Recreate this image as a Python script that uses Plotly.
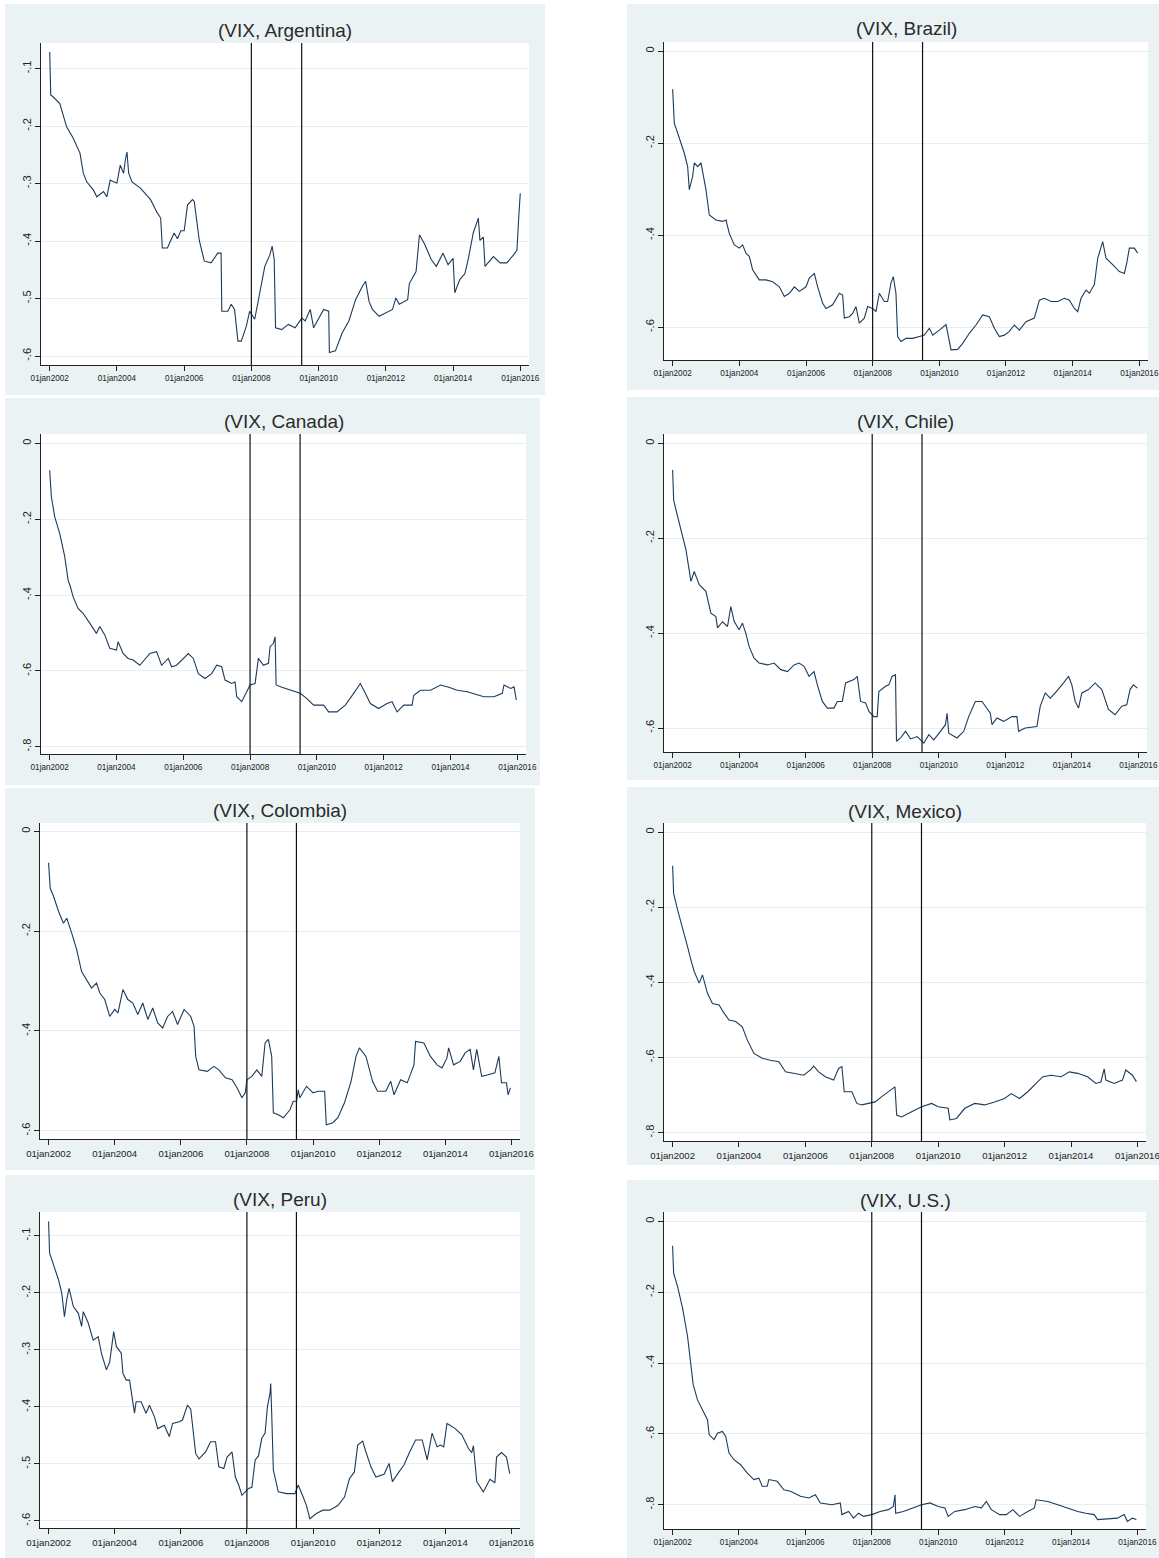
import plotly.graph_objects as go
from datetime import datetime, timedelta

# ---------------------------------------------------------------------------
# Series: time-varying loading on the VIX, by country (decimal years, values)
# ---------------------------------------------------------------------------
arg_t = [2002.0, 2002.03, 2002.1, 2002.3, 2002.5, 2002.7, 2002.9, 2003.0, 2003.1, 2003.3, 2003.4, 2003.6,
         2003.7, 2003.8, 2003.9, 2004.0, 2004.1, 2004.2, 2004.25, 2004.3, 2004.35, 2004.45, 2004.7, 2005.0,
         2005.2, 2005.3, 2005.35, 2005.5, 2005.7, 2005.8, 2005.9, 2006.0, 2006.1, 2006.25, 2006.3, 2006.45,
         2006.6, 2006.8, 2007.0, 2007.1, 2007.12, 2007.3, 2007.4, 2007.5, 2007.6, 2007.7, 2007.85, 2007.95,
         2008.1, 2008.25, 2008.4, 2008.55, 2008.62, 2008.68, 2008.72, 2008.9, 2009.1, 2009.3, 2009.5, 2009.6,
         2009.75, 2009.85, 2010.0, 2010.15, 2010.3, 2010.32, 2010.5, 2010.7, 2010.9, 2011.1, 2011.3, 2011.4,
         2011.5, 2011.6, 2011.8, 2012.0, 2012.2, 2012.3, 2012.4, 2012.65, 2012.7, 2012.9, 2013.0, 2013.15,
         2013.35, 2013.5, 2013.7, 2013.85, 2014.0, 2014.05, 2014.2, 2014.35, 2014.45, 2014.6, 2014.75, 2014.8,
         2014.9, 2014.95, 2015.2, 2015.4, 2015.6, 2015.8, 2015.9, 2015.95, 2016.0]
arg_v = [-0.071, -0.146, -0.149, -0.161, -0.201, -0.221, -0.247, -0.282, -0.297, -0.311, -0.323, -0.314,
         -0.323, -0.294, -0.297, -0.299, -0.268, -0.282, -0.259, -0.245, -0.282, -0.297, -0.308, -0.328,
         -0.351, -0.360, -0.412, -0.412, -0.386, -0.396, -0.382, -0.382, -0.337, -0.328, -0.331, -0.399,
         -0.435, -0.438, -0.421, -0.421, -0.522, -0.522, -0.510, -0.519, -0.574, -0.574, -0.548, -0.522,
         -0.536, -0.490, -0.444, -0.424, -0.409, -0.432, -0.551, -0.554, -0.545, -0.551, -0.534, -0.539,
         -0.519, -0.551, -0.536, -0.519, -0.522, -0.594, -0.591, -0.560, -0.539, -0.502, -0.479, -0.470,
         -0.505, -0.519, -0.531, -0.525, -0.519, -0.499, -0.510, -0.502, -0.474, -0.453, -0.389, -0.405,
         -0.432, -0.444, -0.421, -0.441, -0.430, -0.490, -0.467, -0.457, -0.432, -0.386, -0.360, -0.399,
         -0.393, -0.444, -0.427, -0.438, -0.438, -0.424, -0.416, -0.363, -0.317]

bra_t = [2002.0, 2002.02, 2002.05, 2002.15, 2002.25, 2002.35, 2002.45, 2002.5, 2002.6, 2002.65, 2002.75,
         2002.85, 2003.0, 2003.1, 2003.3, 2003.5, 2003.6, 2003.7, 2003.85, 2004.0, 2004.1, 2004.2, 2004.3,
         2004.4, 2004.6, 2004.8, 2005.0, 2005.2, 2005.35, 2005.5, 2005.65, 2005.8, 2006.0, 2006.1, 2006.25,
         2006.35, 2006.5, 2006.6, 2006.8, 2007.0, 2007.1, 2007.15, 2007.3, 2007.4, 2007.5, 2007.6, 2007.75,
         2007.85, 2008.0, 2008.1, 2008.2, 2008.35, 2008.45, 2008.55, 2008.62, 2008.7, 2008.75, 2008.85,
         2009.0, 2009.2, 2009.4, 2009.55, 2009.7, 2009.8, 2010.0, 2010.2, 2010.35, 2010.55, 2010.7, 2010.9,
         2011.1, 2011.3, 2011.5, 2011.65, 2011.8, 2011.95, 2012.1, 2012.25, 2012.4, 2012.6, 2012.85, 2013.0,
         2013.15, 2013.35, 2013.55, 2013.75, 2013.9, 2014.05, 2014.15, 2014.25, 2014.4, 2014.5, 2014.65,
         2014.75, 2014.9, 2015.0, 2015.2, 2015.4, 2015.55, 2015.62, 2015.7, 2015.85, 2015.95]
bra_v = [-0.083, -0.113, -0.157, -0.178, -0.200, -0.222, -0.251, -0.301, -0.272, -0.243, -0.251,
         -0.243, -0.301, -0.356, -0.367, -0.370, -0.367, -0.396, -0.421, -0.428, -0.421, -0.439, -0.446,
         -0.475, -0.497, -0.497, -0.501, -0.512, -0.533, -0.526, -0.512, -0.522, -0.512, -0.493, -0.483,
         -0.512, -0.548, -0.559, -0.551, -0.526, -0.530, -0.580, -0.577, -0.570, -0.555, -0.591, -0.580,
         -0.555, -0.559, -0.566, -0.526, -0.544, -0.544, -0.504, -0.490, -0.526, -0.620, -0.631,
         -0.624, -0.624, -0.620, -0.617, -0.602, -0.617, -0.606, -0.594, -0.649, -0.648, -0.635, -0.613,
         -0.595, -0.573, -0.577, -0.602, -0.620, -0.617, -0.609, -0.595, -0.606, -0.588, -0.580, -0.541,
         -0.537, -0.544, -0.544, -0.537, -0.541, -0.559, -0.566, -0.537, -0.519, -0.526, -0.507,
         -0.450, -0.414, -0.450, -0.464, -0.479, -0.483, -0.461, -0.428, -0.428, -0.439]

can_t = [2002.0, 2002.05, 2002.15, 2002.3, 2002.45, 2002.55, 2002.62, 2002.7, 2002.85, 2003.0, 2003.2,
         2003.4, 2003.5, 2003.65, 2003.8, 2004.0, 2004.05, 2004.2, 2004.35, 2004.5, 2004.7, 2004.85, 2005.0,
         2005.2, 2005.35, 2005.55, 2005.65, 2005.8, 2005.95, 2006.15, 2006.3, 2006.45, 2006.65, 2006.85,
         2007.0, 2007.15, 2007.25, 2007.45, 2007.55, 2007.6, 2007.75, 2007.9, 2008.0, 2008.15, 2008.25,
         2008.4, 2008.55, 2008.6, 2008.7, 2008.75, 2008.78, 2008.95, 2009.2, 2009.5, 2009.7, 2009.9, 2010.2,
         2010.35, 2010.6, 2010.85, 2011.1, 2011.3, 2011.45, 2011.6, 2011.85, 2012.1, 2012.25, 2012.4, 2012.6,
         2012.85, 2012.9, 2013.1, 2013.4, 2013.7, 2013.95, 2014.2, 2014.5, 2014.7, 2014.85, 2015.0, 2015.3,
         2015.55, 2015.6, 2015.8, 2015.9, 2015.97]
can_v = [-0.071, -0.140, -0.193, -0.237, -0.298, -0.360, -0.378, -0.404, -0.435, -0.448, -0.474,
         -0.501, -0.483, -0.505, -0.540, -0.545, -0.523, -0.554, -0.567, -0.571, -0.585, -0.571, -0.554,
         -0.549, -0.585, -0.567, -0.589, -0.585, -0.571, -0.554, -0.567, -0.607, -0.620, -0.607,
         -0.585, -0.589, -0.624, -0.633, -0.629, -0.668, -0.681, -0.655, -0.637, -0.633, -0.567,
         -0.585, -0.580, -0.536, -0.527, -0.510, -0.637, -0.643, -0.651, -0.659, -0.673, -0.690, -0.690,
         -0.708, -0.708, -0.690, -0.659, -0.633, -0.659, -0.686, -0.699, -0.686, -0.681, -0.708, -0.690,
         -0.690, -0.664, -0.651, -0.651, -0.637, -0.643, -0.651, -0.655, -0.659, -0.664, -0.668, -0.668,
         -0.659, -0.637, -0.646, -0.642, -0.677]

chl_t = [2002.0, 2002.03, 2002.1, 2002.2, 2002.3, 2002.4, 2002.5, 2002.55, 2002.65, 2002.8, 2003.0,
         2003.15, 2003.3, 2003.35, 2003.5, 2003.65, 2003.75, 2003.85, 2004.0, 2004.1, 2004.2, 2004.3,
         2004.45, 2004.6, 2004.85, 2005.05, 2005.25, 2005.45, 2005.65, 2005.8, 2005.95, 2006.1, 2006.25,
         2006.35, 2006.5, 2006.65, 2006.85, 2006.95, 2007.1, 2007.2, 2007.45, 2007.55, 2007.65, 2007.8,
         2007.9, 2008.05, 2008.15, 2008.2, 2008.4, 2008.5, 2008.6, 2008.7, 2008.73, 2008.85, 2009.0, 2009.15,
         2009.35, 2009.55, 2009.7, 2009.85, 2010.05, 2010.2, 2010.25, 2010.3, 2010.55, 2010.75, 2010.9,
         2011.1, 2011.3, 2011.55, 2011.6, 2011.75, 2011.95, 2012.2, 2012.35, 2012.4, 2012.6, 2012.95, 2013.05,
         2013.2, 2013.35, 2013.5, 2013.75, 2013.9, 2014.0, 2014.1, 2014.2, 2014.3, 2014.5, 2014.7, 2014.9,
         2015.1, 2015.3, 2015.5, 2015.65, 2015.75, 2015.85, 2015.97]
chl_v = [-0.056, -0.119, -0.140, -0.171, -0.196, -0.224, -0.263, -0.291, -0.270, -0.298, -0.312,
         -0.358, -0.365, -0.389, -0.376, -0.386, -0.344, -0.375, -0.393, -0.379, -0.400, -0.428,
         -0.453, -0.463, -0.467, -0.463, -0.477, -0.481, -0.467, -0.463, -0.470, -0.491, -0.481,
         -0.509, -0.544, -0.558, -0.558, -0.544, -0.544, -0.505, -0.498, -0.491, -0.544, -0.547,
         -0.565, -0.576, -0.576, -0.523, -0.512, -0.509, -0.491, -0.488, -0.628, -0.621, -0.607, -0.623,
         -0.618, -0.632, -0.614, -0.625, -0.607, -0.593, -0.569, -0.611, -0.621, -0.607, -0.576,
         -0.544, -0.544, -0.569, -0.593, -0.579, -0.586, -0.576, -0.576, -0.607, -0.600, -0.597, -0.554,
         -0.526, -0.537, -0.526, -0.505, -0.491, -0.509, -0.544, -0.558, -0.526, -0.519, -0.505, -0.519,
         -0.561, -0.572, -0.554, -0.551, -0.519, -0.509, -0.516]

col_t = [2002.0, 2002.05, 2002.15, 2002.3, 2002.45, 2002.55, 2002.7, 2002.85, 2003.0, 2003.15, 2003.3,
         2003.45, 2003.55, 2003.7, 2003.85, 2004.0, 2004.1, 2004.25, 2004.4, 2004.55, 2004.7, 2004.85, 2005.0,
         2005.15, 2005.3, 2005.45, 2005.6, 2005.75, 2005.9, 2006.1, 2006.3, 2006.4, 2006.45, 2006.55, 2006.8,
         2007.0, 2007.15, 2007.35, 2007.55, 2007.7, 2007.85, 2007.95, 2008.0, 2008.15, 2008.3, 2008.45,
         2008.55, 2008.65, 2008.75, 2008.8, 2008.95, 2009.1, 2009.3, 2009.4, 2009.5, 2009.55, 2009.6, 2009.8,
         2010.0, 2010.15, 2010.35, 2010.4, 2010.6, 2010.75, 2010.95, 2011.15, 2011.3, 2011.4, 2011.6, 2011.8,
         2011.95, 2012.2, 2012.35, 2012.45, 2012.65, 2012.85, 2013.05, 2013.1, 2013.35, 2013.55, 2013.75,
         2013.9, 2014.05, 2014.1, 2014.25, 2014.45, 2014.6, 2014.75, 2014.85, 2014.95, 2015.1, 2015.3, 2015.5,
         2015.62, 2015.7, 2015.85, 2015.9, 2015.97]
col_v = [-0.063, -0.114, -0.130, -0.160, -0.184, -0.174, -0.204, -0.237, -0.281, -0.297, -0.314,
         -0.304, -0.324, -0.337, -0.371, -0.357, -0.364, -0.317, -0.337, -0.344, -0.367, -0.344, -0.377,
         -0.354, -0.384, -0.394, -0.371, -0.361, -0.387, -0.357, -0.371, -0.391, -0.451, -0.478, -0.481,
         -0.471, -0.478, -0.494, -0.498, -0.514, -0.534, -0.524, -0.498, -0.491, -0.478, -0.491,
         -0.424, -0.417, -0.451, -0.564, -0.568, -0.574, -0.558, -0.541, -0.541, -0.518, -0.534, -0.511,
         -0.524, -0.521, -0.521, -0.588, -0.584, -0.574, -0.544, -0.501, -0.451, -0.434, -0.451, -0.501,
         -0.521, -0.521, -0.501, -0.528, -0.498, -0.504, -0.468, -0.421, -0.424, -0.451, -0.468,
         -0.474, -0.454, -0.434, -0.468, -0.461, -0.444, -0.437, -0.478, -0.437, -0.491, -0.488, -0.484,
         -0.451, -0.504, -0.504, -0.528, -0.514]

mex_t = [2002.0, 2002.03, 2002.15, 2002.3, 2002.45, 2002.55, 2002.65, 2002.8, 2002.9, 2003.05, 2003.2,
         2003.4, 2003.55, 2003.7, 2003.9, 2004.1, 2004.25, 2004.45, 2004.7, 2004.95, 2005.2, 2005.4, 2005.7,
         2005.95, 2006.15, 2006.25, 2006.4, 2006.6, 2006.85, 2007.0, 2007.1, 2007.17, 2007.4, 2007.55,
         2007.7, 2007.9, 2008.1, 2008.3, 2008.5, 2008.7, 2008.75, 2008.9, 2009.2, 2009.5, 2009.8, 2010.0,
         2010.3, 2010.35, 2010.55, 2010.8, 2011.1, 2011.4, 2011.7, 2012.0, 2012.2, 2012.45, 2012.7, 2012.95,
         2013.15, 2013.4, 2013.7, 2013.95, 2014.2, 2014.5, 2014.75, 2014.9, 2015.0, 2015.05, 2015.3, 2015.55,
         2015.65, 2015.85, 2015.97]
mex_v = [-0.090, -0.163, -0.207, -0.260, -0.305, -0.340, -0.371, -0.402, -0.380, -0.429, -0.456,
         -0.460, -0.482, -0.500, -0.504, -0.518, -0.553, -0.589, -0.602, -0.607, -0.611, -0.638, -0.642,
         -0.647, -0.633, -0.623, -0.638, -0.651, -0.660, -0.629, -0.624, -0.691, -0.691, -0.722,
         -0.726, -0.722, -0.718, -0.704, -0.691, -0.678, -0.753, -0.758, -0.744, -0.731, -0.722, -0.731,
         -0.735, -0.766, -0.762, -0.735, -0.722, -0.726, -0.718, -0.709, -0.696, -0.709, -0.691, -0.669,
         -0.651, -0.647, -0.651, -0.638, -0.642, -0.651, -0.669, -0.665, -0.630, -0.660, -0.669, -0.660,
         -0.633, -0.647, -0.664]

per_t = [2002.0, 2002.03, 2002.15, 2002.3, 2002.4, 2002.48, 2002.55, 2002.62, 2002.75, 2002.9, 2003.0,
         2003.05, 2003.2, 2003.35, 2003.5, 2003.6, 2003.75, 2003.85, 2003.97, 2004.05, 2004.2, 2004.25,
         2004.35, 2004.45, 2004.6, 2004.65, 2004.8, 2004.95, 2005.05, 2005.2, 2005.3, 2005.5, 2005.65,
         2005.75, 2005.95, 2006.05, 2006.2, 2006.3, 2006.45, 2006.55, 2006.75, 2006.9, 2007.05, 2007.15,
         2007.3, 2007.4, 2007.55, 2007.65, 2007.75, 2007.85, 2007.95, 2008.05, 2008.15, 2008.25, 2008.35,
         2008.45, 2008.55, 2008.62, 2008.7, 2008.72, 2008.75, 2008.8, 2008.95, 2009.2, 2009.45, 2009.55,
         2009.7, 2009.8, 2009.9, 2010.1, 2010.3, 2010.5, 2010.75, 2010.95, 2011.1, 2011.25, 2011.35, 2011.5,
         2011.6, 2011.75, 2011.9, 2012.15, 2012.3, 2012.4, 2012.6, 2012.75, 2012.9, 2013.1, 2013.3, 2013.45,
         2013.6, 2013.75, 2013.85, 2013.95, 2014.05, 2014.3, 2014.5, 2014.7, 2014.8, 2014.85, 2014.95,
         2015.15, 2015.35, 2015.5, 2015.55, 2015.7, 2015.85, 2015.95]
per_v = [-0.075, -0.130, -0.151, -0.177, -0.201, -0.242, -0.212, -0.192, -0.224, -0.236, -0.259,
         -0.233, -0.253, -0.283, -0.277, -0.306, -0.335, -0.321, -0.268, -0.294, -0.306, -0.341,
         -0.353, -0.353, -0.411, -0.391, -0.391, -0.411, -0.397, -0.417, -0.438, -0.432, -0.452,
         -0.429, -0.426, -0.423, -0.397, -0.404, -0.482, -0.491, -0.479, -0.461, -0.461, -0.505,
         -0.508, -0.488, -0.479, -0.523, -0.537, -0.555, -0.549, -0.543, -0.541, -0.493, -0.486,
         -0.455, -0.446, -0.400, -0.376, -0.359, -0.411, -0.511, -0.549, -0.552, -0.552, -0.537,
         -0.558, -0.573, -0.596, -0.587, -0.581, -0.581, -0.573, -0.558, -0.526, -0.514, -0.467, -0.460,
         -0.479, -0.505, -0.523, -0.518, -0.499, -0.531, -0.514, -0.502, -0.482, -0.458, -0.458, -0.493,
         -0.446, -0.470, -0.467, -0.470, -0.429, -0.438, -0.449, -0.473, -0.480, -0.468, -0.531,
         -0.549, -0.527, -0.533, -0.488, -0.480, -0.488, -0.517]

usa_t = [2002.0, 2002.03, 2002.15, 2002.3, 2002.45, 2002.55, 2002.62, 2002.75, 2002.9, 2003.05, 2003.1,
         2003.25, 2003.35, 2003.5, 2003.6, 2003.7, 2003.85, 2004.05, 2004.25, 2004.45, 2004.6, 2004.7,
         2004.85, 2004.9, 2005.15, 2005.35, 2005.55, 2005.85, 2006.1, 2006.3, 2006.45, 2006.8, 2007.05,
         2007.1, 2007.3, 2007.45, 2007.6, 2007.75, 2008.0, 2008.25, 2008.5, 2008.65, 2008.7, 2008.72,
         2008.95, 2009.25, 2009.5, 2009.75, 2010.0, 2010.2, 2010.3, 2010.5, 2010.8, 2011.1, 2011.3, 2011.45,
         2011.6, 2011.85, 2012.05, 2012.25, 2012.45, 2012.7, 2012.9, 2012.95, 2013.3, 2013.6, 2013.9, 2014.2,
         2014.45, 2014.7, 2014.8, 2015.1, 2015.4, 2015.6, 2015.7, 2015.85, 2015.97]
usa_v = [-0.069, -0.146, -0.184, -0.245, -0.325, -0.409, -0.461, -0.504, -0.532, -0.560, -0.602,
         -0.616, -0.598, -0.593, -0.607, -0.654, -0.673, -0.687, -0.711, -0.729, -0.725, -0.748,
         -0.748, -0.729, -0.734, -0.758, -0.762, -0.776, -0.781, -0.772, -0.795, -0.800, -0.795,
         -0.828, -0.819, -0.838, -0.824, -0.833, -0.828, -0.819, -0.814, -0.805, -0.772, -0.824,
         -0.819, -0.809, -0.800, -0.795, -0.805, -0.809, -0.833, -0.819, -0.814, -0.805, -0.809, -0.791,
         -0.814, -0.828, -0.828, -0.814, -0.833, -0.819, -0.809, -0.786, -0.791, -0.800, -0.809, -0.819,
         -0.824, -0.828, -0.842, -0.840, -0.838, -0.828, -0.847, -0.838, -0.842]

titles = ["(VIX, Argentina)", "(VIX, Brazil)", "(VIX, Canada)", "(VIX, Chile)",
          "(VIX, Colombia)", "(VIX, Mexico)", "(VIX, Peru)", "(VIX, U.S.)"]
series_t = [arg_t, bra_t, can_t, chl_t, col_t, mex_t, per_t, usa_t]
series_v = [arg_v, bra_v, can_v, chl_v, col_v, mex_v, per_v, usa_v]

# y tick values shown on each panel
ytick_sets = [
    [-0.6, -0.5, -0.4, -0.3, -0.2, -0.1],
    [-0.6, -0.4, -0.2, 0.0],
    [-0.8, -0.6, -0.4, -0.2, 0.0],
    [-0.6, -0.4, -0.2, 0.0],
    [-0.6, -0.4, -0.2, 0.0],
    [-0.8, -0.6, -0.4, -0.2, 0.0],
    [-0.6, -0.5, -0.4, -0.3, -0.2, -0.1],
    [-0.8, -0.6, -0.4, -0.2, 0.0],
]
xtick_years = [2002, 2004, 2006, 2008, 2010, 2012, 2014, 2016]
event_dates = ["2008-01-01", "2009-07-01"]

# ---------------------------------------------------------------------------
# Page geometry (pixels): panel background box, plot box, y range, fonts
# ---------------------------------------------------------------------------
W, H = 1159, 1558
panel_box = [(5, 545, 4, 395), (627, 1159, 4, 390), (5, 540, 398, 785), (627, 1159, 397, 780),
             (5, 535, 788, 1170), (627, 1159, 787, 1165), (5, 535, 1175, 1558), (627, 1159, 1180, 1558)]
plot_box = [(41, 529, 43, 365), (664, 1148, 42, 360), (41, 526, 434, 754), (664, 1147, 434, 752),
            (40, 520, 823, 1139), (664, 1146, 823, 1141), (40, 520, 1212, 1528), (664, 1146, 1212, 1529)]
y_ranges = [(-0.6156, -0.0555), (-0.671, 0.0196), (-0.819, 0.0248), (-0.6506, 0.0198),
            (-0.6166, 0.0168), (-0.822, 0.024), (-0.6123, -0.0583), (-0.8686, 0.0265)]
title_y = [30, 29, 421, 421, 810, 811, 1199, 1200]
xfont = [8.2, 8.2, 8.2, 8.2, 9.6, 9.6, 9.6, 8.2]

LINE = "#1c3b5a"
FONT = "Liberation Sans, Arial, sans-serif"


def to_date(t):
    y = int(t)
    return datetime(y, 1, 1) + timedelta(days=(t - y) * 365.25)


def fx(px):
    return px / W


def fy(py):
    return 1 - py / H


def ylab(v):
    if abs(v) < 1e-9:
        return "0"
    return ("-" if v < 0 else "") + f"{abs(v):.1f}".lstrip("0")


x_range = [to_date(2001.74), to_date(2016.26)]

fig = go.Figure()
shapes, annotations = [], []
layout = {}

for k in range(8):
    sfx = "" if k == 0 else str(k + 1)
    xa, ya = "x" + sfx, "y" + sfx
    bx0, bx1, by0, by1 = panel_box[k]
    px0, px1, py0, py1 = plot_box[k]

    # panel background and white plot region
    shapes.append(dict(type="rect", xref="paper", yref="paper", x0=fx(bx0), x1=fx(bx1),
                       y0=fy(by1), y1=fy(by0), fillcolor="#eaf2f3", line=dict(width=0), layer="below"))
    shapes.append(dict(type="rect", xref="paper", yref="paper", x0=fx(px0), x1=fx(px1),
                       y0=fy(py1), y1=fy(py0), fillcolor="white", line=dict(width=0), layer="below"))

    fig.add_trace(go.Scatter(x=[to_date(t) for t in series_t[k]], y=series_v[k], mode="lines",
                             line=dict(color=LINE, width=1.1), xaxis=xa, yaxis=ya,
                             showlegend=False, hoverinfo="skip"))

    for d in event_dates:
        shapes.append(dict(type="line", xref=xa, yref=ya + " domain", x0=d, x1=d, y0=0, y1=1,
                           line=dict(color="#111111", width=1.2)))

    layout["xaxis" + sfx] = dict(
        domain=[fx(px0), fx(px1)], anchor=ya, type="date", range=x_range, automargin=False,
        tickvals=[f"{y}-01-01" for y in xtick_years],
        ticktext=[f"01jan{y}" for y in xtick_years], tickangle=0, ticklabeloverflow="allow",
        showline=True, linecolor="#222222", linewidth=1, mirror=False,
        ticks="outside", ticklen=5, tickcolor="#222222", tickwidth=1,
        showgrid=False, zeroline=False, fixedrange=True,
        tickfont=dict(family=FONT, size=xfont[k], color="#222222"))
    layout["yaxis" + sfx] = dict(
        domain=[fy(py1), fy(py0)], anchor=xa, range=list(y_ranges[k]), automargin=False,
        tickvals=ytick_sets[k], ticktext=[ylab(v) for v in ytick_sets[k]], tickangle=-90,
        ticklabeloverflow="allow",
        showline=True, linecolor="#222222", linewidth=1,
        ticks="outside", ticklen=5, tickcolor="#222222", tickwidth=1,
        showgrid=True, gridcolor="#e6eef0", gridwidth=1, zeroline=False, fixedrange=True,
        tickfont=dict(family=FONT, size=11, color="#222222"))

    annotations.append(dict(text=titles[k], xref="paper", yref="paper",
                            x=fx((px0 + px1) / 2), y=fy(title_y[k]), xanchor="center", yanchor="middle",
                            showarrow=False, font=dict(family=FONT, size=19, color="#2b2b2b")))

fig.update_layout(
    width=W, height=H, margin=dict(l=0, r=0, t=0, b=0, autoexpand=False),
    paper_bgcolor="white", plot_bgcolor="rgba(0,0,0,0)",
    shapes=shapes, annotations=annotations, showlegend=False, **layout)

fig.write_html("out.html")
